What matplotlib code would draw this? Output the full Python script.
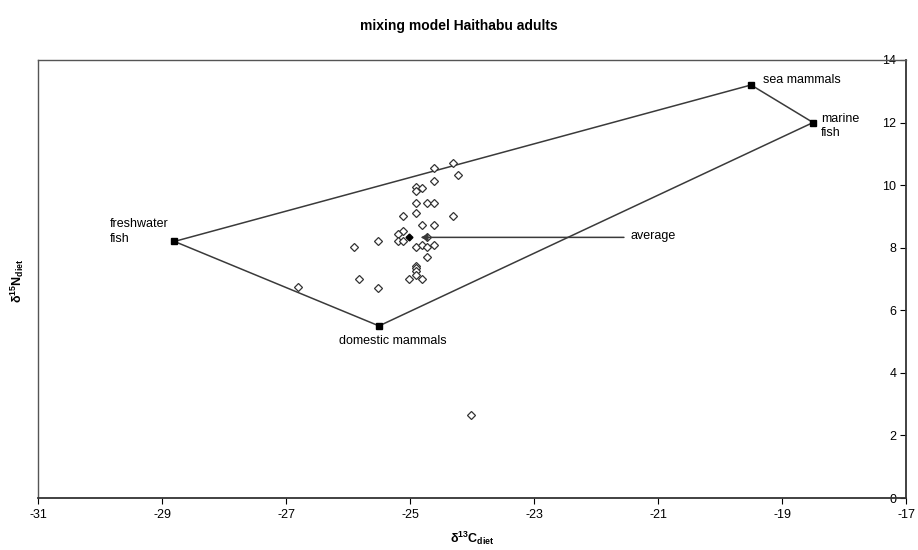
import matplotlib
matplotlib.use("Agg")
import matplotlib.pyplot as plt

plt.rcParams['font.family'] = ['Liberation Sans', 'DejaVu Sans']
plt.rcParams['mathtext.fontset'] = 'custom'
plt.rcParams['mathtext.rm'] = 'Liberation Sans'
plt.rcParams['mathtext.bf'] = 'Liberation Sans:bold'
plt.rcParams['axes.unicode_minus'] = False

# end members of the mixing model (polygon order)
end_names = ['freshwater\nfish', 'sea mammals', 'marine\nfish', 'domestic mammals']
end_c = [-28.8, -19.5, -18.5, -25.5]
end_n = [8.2, 13.2, 12.0, 5.5]

# individual adults
adult_c = [-24.61, -24.31, -24.22, -24.61, -24.91, -24.81, -24.91, -24.91,
           -24.72, -24.61, -24.91, -25.11, -24.31, -24.81, -24.61, -25.11,
           -25.20, -24.72, -25.52, -25.20, -25.11, -24.91, -24.81, -24.72,
           -24.61, -25.91, -24.72, -24.91, -24.91, -24.91, -24.91, -25.02,
           -24.81, -25.82, -25.52, -26.80, -24.02]
adult_n = [10.54, 10.72, 10.31, 10.12, 9.93, 9.91, 9.82, 9.42,
           9.42, 9.42, 9.12, 9.01, 9.01, 8.73, 8.73, 8.53,
           8.43, 8.33, 8.22, 8.22, 8.22, 8.01, 8.10, 8.01,
           8.10, 8.01, 7.71, 7.40, 7.34, 7.26, 7.12, 7.00,
           7.00, 7.00, 6.72, 6.73, 2.65]

avg_c, avg_n = -25.02, 8.33

fig = plt.figure(figsize=(9.18, 5.5), dpi=100)
ax = fig.add_axes([0.0414, 0.0945, 0.9456, 0.7965])

line_col = '#3a3a3a'
poly_c = end_c + [end_c[0]]
poly_n = end_n + [end_n[0]]
ax.plot(poly_c, poly_n, color=line_col, lw=1.1, zorder=2)
ax.plot(end_c, end_n, 's', color='black', ms=4.5, zorder=4)

ax.plot(adult_c, adult_n, 'D', mfc='white', mec='#333333', mew=0.9, ms=3.6,
        ls='none', zorder=3)
ax.plot([avg_c], [avg_n], 'D', color='black', ms=3.5, zorder=5)

# labels of end members
fs = 9
ax.text(-19.31, 13.35, 'sea mammals', fontsize=fs, ha='left', va='center')
ax.text(-18.37, 11.90, 'marine\nfish', fontsize=fs, ha='left', va='center',
        linespacing=1.25)
ax.text(-29.84, 8.52, 'freshwater\nfish', fontsize=fs, ha='left', va='center',
        linespacing=1.25)
ax.text(-25.27, 5.02, 'domestic mammals', fontsize=fs, ha='center', va='center')

# average arrow
ax.annotate('', xy=(-24.83, avg_n), xytext=(-21.55, avg_n),
            arrowprops=dict(arrowstyle='-|>', color=line_col, lw=1.1,
                            mutation_scale=10, shrinkA=0, shrinkB=0))
ax.text(-21.45, avg_n + 0.05, 'average', fontsize=fs, ha='left', va='center')

ax.set_xlim(-31, -17)
ax.set_ylim(0, 14)
ax.set_xticks(range(-31, -16, 2))
ax.set_yticks(range(0, 15, 2))

ax.tick_params(axis='x', direction='out', length=4, labelsize=fs, pad=4)
ax.yaxis.tick_right()
ax.tick_params(axis='y', direction='in', length=4, labelsize=fs, pad=-7)
for lab in ax.get_yticklabels():
    lab.set_horizontalalignment('right')

for sp in ax.spines.values():
    sp.set_color('#555555')
    sp.set_linewidth(1.0)
ax.spines['right'].set_color('#333333')
ax.spines['right'].set_linewidth(1.3)
ax.spines['bottom'].set_color('#333333')
ax.spines['bottom'].set_linewidth(1.3)

ax.set_xlabel(r'$\mathbf{\delta^{13}C_{diet}}$', fontsize=fs, labelpad=6)
fig.text(0.019, 0.49, r'$\mathbf{\delta^{15}N_{diet}}$', fontsize=fs,
         rotation=90, ha='center', va='center')
fig.suptitle('mixing model Haithabu adults', fontsize=10, fontweight='bold',
             y=0.965)

plt.savefig('out.png', dpi=100)
plt.close()
